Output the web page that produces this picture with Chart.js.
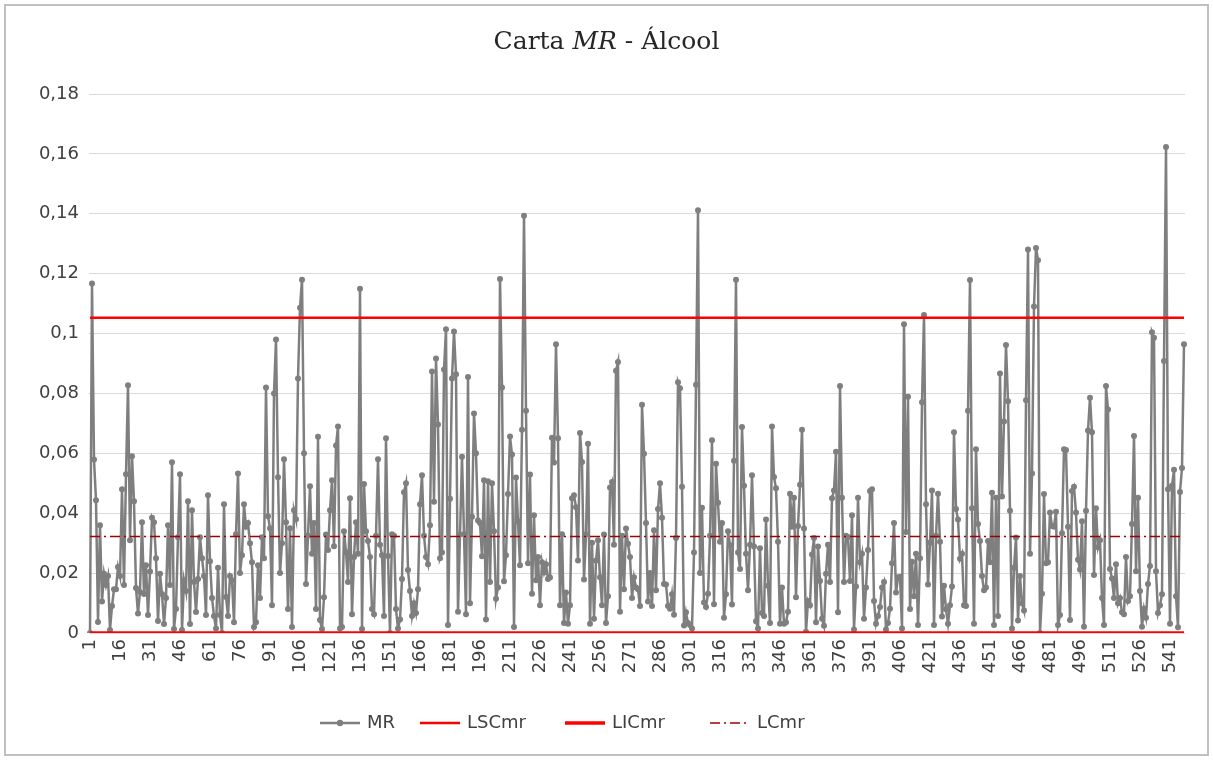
<!DOCTYPE html>
<html>
<head>
<meta charset="utf-8">
<script src="https://cdn.jsdelivr.net/npm/chart.js@4.4.1/dist/chart.umd.min.js"></script>
<style>
  html, body { margin: 0; padding: 0; background: #fff; }
  canvas { position: absolute; left: 0; top: 0; }
  #frame { position: absolute; left: 4px; top: 4px; width: 1201px; height: 748px; border: 2px solid #c0c0c0; pointer-events: none; }
  #title { position: absolute; top: 26px; left: 0; width: 1213px; text-align: center;
           font-family: "DejaVu Serif", serif; font-size: 25px; color: #262626; }
</style>
</head>
<body>
<canvas id="chart" width="1213" height="760"></canvas>
<div id="title">Carta <i>MR</i> - Álcool</div>
<div id="frame"></div>
<script>
// MR values, in chunks of 50 points
const mr001 = [0.000, 0.1167, 0.0579, 0.0443, 0.0037, 0.036, 0.0105, 0.0198, 0.016, 0.019,
  0.001, 0.009, 0.0146, 0.0146, 0.022, 0.019, 0.048, 0.016, 0.053, 0.0827,
  0.031, 0.059, 0.044, 0.015, 0.0065, 0.0137, 0.037, 0.013, 0.0226, 0.006,
  0.0205, 0.0385, 0.037, 0.025, 0.004, 0.0198, 0.013, 0.003, 0.0117, 0.036,
  0.016, 0.057, 0.0013, 0.008, 0.032, 0.053, 0.001, 0.0176, 0.014, 0.044];
const mr051 = [0.003, 0.041, 0.017, 0.007, 0.018, 0.032, 0.025, 0.019, 0.006, 0.046,
  0.024, 0.0117, 0.0057, 0.0015, 0.0218, 0.006, 0.000, 0.043, 0.012, 0.0057,
  0.019, 0.0176, 0.0036, 0.033, 0.0533, 0.020, 0.026, 0.043, 0.0355, 0.0367,
  0.030, 0.0236, 0.002, 0.0036, 0.0226, 0.0117, 0.032, 0.025, 0.082, 0.039,
  0.035, 0.0093, 0.080, 0.098, 0.052, 0.020, 0.030, 0.058, 0.037, 0.008];
const mr101 = [0.035, 0.002, 0.041, 0.038, 0.085, 0.1086, 0.118, 0.060, 0.0164, 0.0325,
  0.049, 0.0265, 0.0367, 0.008, 0.0655, 0.0043, 0.0013, 0.0119, 0.0329, 0.0277,
  0.041, 0.051, 0.029, 0.0626, 0.069, 0.0015, 0.002, 0.034, 0.027, 0.017,
  0.045, 0.0063, 0.0254, 0.037, 0.0265, 0.115, 0.0013, 0.0498, 0.034, 0.0307,
  0.0254, 0.008, 0.0063, 0.0325, 0.058, 0.0295, 0.026, 0.0057, 0.065, 0.0257];
const mr151 = [0.000, 0.033, 0.0325, 0.008, 0.0015, 0.0045, 0.018, 0.047, 0.050, 0.021,
  0.014, 0.0057, 0.0099, 0.0067, 0.0146, 0.043, 0.0527, 0.0325, 0.0254, 0.023,
  0.036, 0.0873, 0.0438, 0.0917, 0.0696, 0.025, 0.0269, 0.088, 0.1014, 0.0027,
  0.0448, 0.085, 0.1007, 0.0864, 0.0071, 0.0329, 0.0589, 0.033, 0.0063, 0.0855,
  0.0099, 0.0388, 0.0733, 0.060, 0.0376, 0.0367, 0.0256, 0.051, 0.0045, 0.0507];
const mr201 = [0.017, 0.050, 0.034, 0.0114, 0.0152, 0.1182, 0.082, 0.0173, 0.026, 0.0464,
  0.0656, 0.0596, 0.002, 0.0519, 0.0373, 0.0226, 0.0679, 0.1393, 0.0742, 0.0233,
  0.0529, 0.0131, 0.0393, 0.0176, 0.0254, 0.0093, 0.0236, 0.0202, 0.023, 0.018,
  0.0185, 0.0652, 0.0569, 0.0964, 0.065, 0.0093, 0.033, 0.0033, 0.0135, 0.0031,
  0.0093, 0.045, 0.046, 0.042, 0.0242, 0.0668, 0.0571, 0.0179, 0.0329, 0.0632];
const mr251 = [0.0031, 0.0301, 0.0048, 0.0242, 0.031, 0.0186, 0.0093, 0.0329, 0.0033, 0.0123,
  0.0486, 0.0504, 0.0295, 0.0876, 0.0905, 0.0071, 0.0325, 0.0146, 0.0349, 0.0298,
  0.0254, 0.0117, 0.0186, 0.0152, 0.0146, 0.009, 0.0762, 0.0599, 0.0367, 0.0105,
  0.020, 0.009, 0.0343, 0.0143, 0.0414, 0.050, 0.0385, 0.0164, 0.0162, 0.009,
  0.0081, 0.0129, 0.0061, 0.0317, 0.0837, 0.0817, 0.0488, 0.0025, 0.0069, 0.0033];
const mr301 = [0.0027, 0.0015, 0.0269, 0.0829, 0.1412, 0.020, 0.0418, 0.0102, 0.0087, 0.0131,
  0.0325, 0.0644, 0.0096, 0.0565, 0.0435, 0.0305, 0.0367, 0.0051, 0.0129, 0.034,
  0.0293, 0.0095, 0.0575, 0.118, 0.0269, 0.0214, 0.0688, 0.0492, 0.0265, 0.0143,
  0.0295, 0.0527, 0.0289, 0.0039, 0.0015, 0.0283, 0.0067, 0.0057, 0.0379, 0.0158,
  0.0033, 0.069, 0.0521, 0.0483, 0.0305, 0.0031, 0.0152, 0.0031, 0.0036, 0.0071];
const mr351 = [0.0465, 0.0355, 0.0452, 0.0119, 0.0357, 0.0495, 0.0679, 0.0349, 0.0004, 0.0107,
  0.0093, 0.0262, 0.0317, 0.0036, 0.0289, 0.0174, 0.0048, 0.0024, 0.0198, 0.0295,
  0.017, 0.045, 0.0476, 0.0605, 0.0069, 0.0825, 0.0452, 0.017, 0.0325, 0.0321,
  0.0174, 0.0393, 0.0012, 0.0155, 0.0452, 0.0236, 0.0265, 0.0048, 0.0152, 0.0277,
  0.0474, 0.048, 0.0107, 0.0031, 0.0057, 0.0087, 0.0152, 0.017, 0.0012, 0.0033];
const mr401 = [0.0081, 0.0233, 0.0367, 0.0135, 0.0186, 0.0188, 0.0015, 0.1031, 0.0337, 0.0789,
  0.008, 0.0238, 0.0123, 0.0265, 0.0027, 0.025, 0.0771, 0.1062, 0.043, 0.0162,
  0.0301, 0.0476, 0.0027, 0.0325, 0.0465, 0.0305, 0.0055, 0.0158, 0.0079, 0.0031,
  0.0093, 0.0155, 0.067, 0.0414, 0.0379, 0.0248, 0.0265, 0.0093, 0.009, 0.0742,
  0.1179, 0.0417, 0.0031, 0.0614, 0.0364, 0.0307, 0.019, 0.0143, 0.0152, 0.0307];
const mr451 = [0.0236, 0.0468, 0.0027, 0.0452, 0.0057, 0.0867, 0.0456, 0.0706, 0.0962, 0.0774,
  0.0408, 0.0015, 0.0218, 0.0319, 0.0042, 0.019, 0.0099, 0.0075, 0.0777, 0.1281,
  0.0265, 0.0533, 0.109, 0.1286, 0.1245, 0.000, 0.0131, 0.0464, 0.0233, 0.0236,
  0.0402, 0.0357, 0.0355, 0.0405, 0.0027, 0.006, 0.0333, 0.0614, 0.0611, 0.0355,
  0.0043, 0.0474, 0.0488, 0.0402, 0.0245, 0.0212, 0.0373, 0.0021, 0.0408, 0.0676];
const mr501 = [0.0786, 0.067, 0.0194, 0.0417, 0.0286, 0.031, 0.0117, 0.0027, 0.0825, 0.0746,
  0.0214, 0.0182, 0.0117, 0.023, 0.0099, 0.0117, 0.0069, 0.0063, 0.0254, 0.0107,
  0.0123, 0.0364, 0.0658, 0.0206, 0.0452, 0.014, 0.0021, 0.0081, 0.0051, 0.0164,
  0.0224, 0.1004, 0.0986, 0.0206, 0.0067, 0.0093, 0.0129, 0.0908, 0.1623, 0.048,
  0.0031, 0.0492, 0.0545, 0.0123, 0.0019, 0.0471, 0.0551, 0.0964];

const mrValues = [].concat(mr001, mr051, mr101, mr151, mr201, mr251, mr301, mr351, mr401, mr451, mr501);
const categories = mrValues.map((v, i) => String(i + 1));

// control limits
const lscValue = 0.1053;
const licValue = 0;
const lcValue = 0.0322;

const yTickLabels = ['0', '0,02', '0,04', '0,06', '0,08', '0,1', '0,12', '0,14', '0,16', '0,18'];
const seriesNames = ['MR', 'LSCmr', 'LICmr', 'LCmr'];

const mrColor = '#7f7f7f';
const textColor = '#404040';
const tickFont = { family: 'DejaVu Sans', size: 18 };

// legend drawn by hand so each entry sits where Excel put it
const legendLeft = [320, 420, 565, 710];
const legendY = 723;
const customLegend = {
  id: 'customLegend',
  afterDraw(chart) {
    const ctx = chart.ctx;
    chart.data.datasets.forEach((ds, i) => {
      const x = legendLeft[i];
      ctx.save();
      ctx.strokeStyle = ds.borderColor;
      ctx.lineWidth = ds.borderWidth;
      ctx.setLineDash(ds.borderDash || []);
      ctx.beginPath();
      ctx.moveTo(x, legendY);
      ctx.lineTo(x + 40, legendY);
      ctx.stroke();
      if (i === 0) {
        ctx.fillStyle = mrColor;
        ctx.beginPath();
        ctx.arc(x + 20, legendY, 3.2, 0, Math.PI * 2);
        ctx.fill();
      }
      ctx.fillStyle = textColor;
      ctx.font = tickFont.size + 'px "' + tickFont.family + '"';
      ctx.textBaseline = 'middle';
      ctx.textAlign = 'left';
      ctx.fillText(ds.label, x + 47, legendY);
      ctx.restore();
    });
  }
};

new Chart(document.getElementById('chart'), {
  type: 'line',
  data: {
    labels: categories,
    datasets: [
      {
        label: seriesNames[0],
        data: mrValues,
        borderColor: mrColor,
        backgroundColor: mrColor,
        borderWidth: 2.5,
        pointRadius: 3,
        pointBorderWidth: 0,
        pointBackgroundColor: mrColor,
        order: 1
      },
      {
        label: seriesNames[1],
        data: categories.map(() => lscValue),
        borderColor: '#ff0000',
        borderWidth: 2.5,
        pointRadius: 0,
        order: 0
      },
      {
        label: seriesNames[2],
        data: categories.map(() => licValue),
        borderColor: '#ff0000',
        borderWidth: 3.5,
        pointRadius: 0,
        order: 0
      },
      {
        label: seriesNames[3],
        data: categories.map(() => lcValue),
        borderColor: '#a00000',
        borderWidth: 1.5,
        borderDash: [10, 4, 2, 4],
        pointRadius: 0,
        order: 0
      }
    ]
  },
  options: {
    responsive: false,
    animation: false,
    events: [],
    layout: { padding: { left: 0, right: 28, top: 94, bottom: 79 } },
    scales: {
      x: {
        type: 'category',
        offset: true,
        grid: { display: false, drawTicks: false },
        border: { display: false },
        afterFit: s => { s.height = 48; },
        ticks: {
          autoSkip: false,
          minRotation: 90,
          maxRotation: 90,
          padding: 6,
          color: textColor,
          font: tickFont,
          callback: (val, idx) => (idx % 15 === 0 ? categories[idx] : '')
        }
      },
      y: {
        min: 0,
        max: 0.18,
        grid: { color: '#d9d9d9', lineWidth: 1, drawTicks: false },
        border: { display: false },
        afterFit: s => { s.width = 89; },
        ticks: {
          stepSize: 0.02,
          padding: 10,
          color: textColor,
          font: tickFont,
          callback: (val, idx) => yTickLabels[idx]
        }
      }
    },
    plugins: {
      title: { display: false },
      tooltip: { enabled: false },
      legend: { display: false }
    }
  },
  plugins: [customLegend]
});
</script>
</body>
</html>
